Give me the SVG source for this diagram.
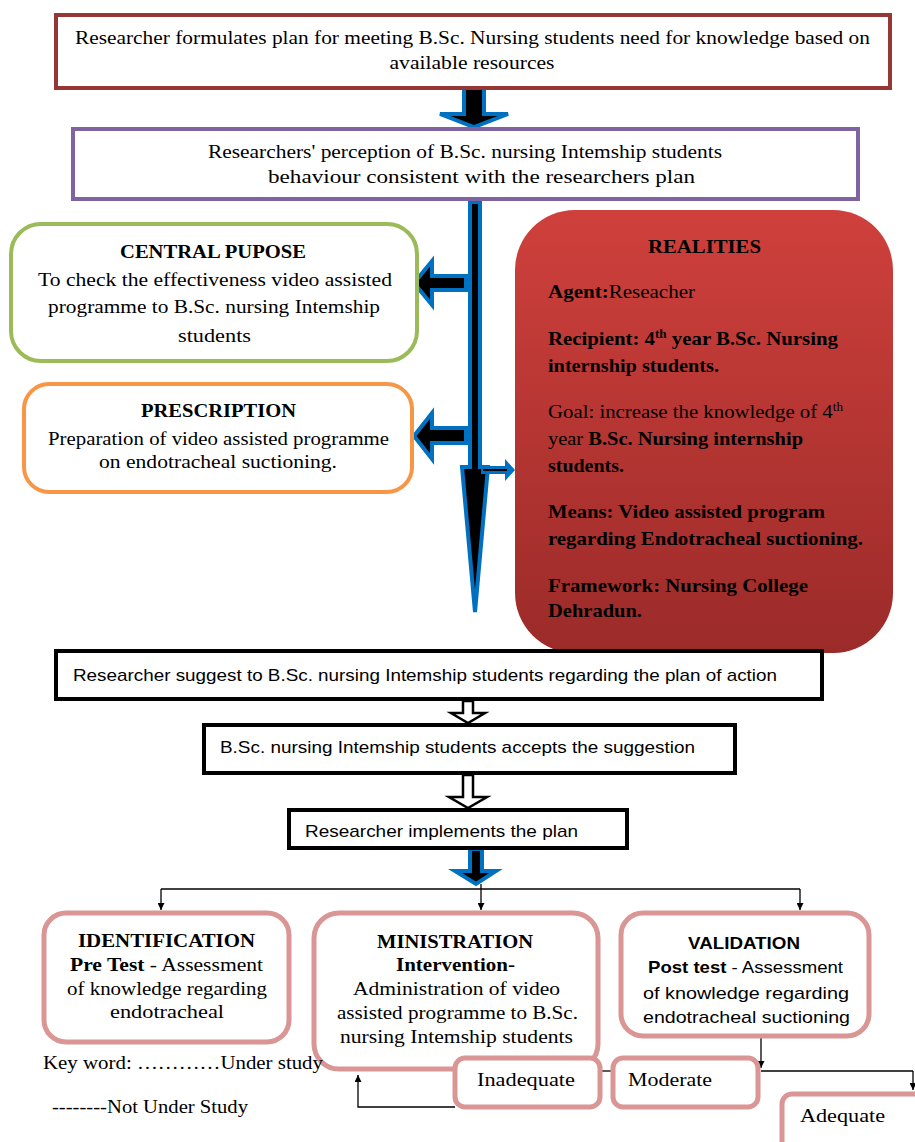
<svg xmlns="http://www.w3.org/2000/svg" width="915" height="1142" viewBox="0 0 915 1142">
<style>
.serif{font-family:"Liberation Serif","Times New Roman",serif;fill:#000}
.sans{font-family:"Liberation Sans",Arial,sans-serif;fill:#000}
.b{font-weight:bold}
.blk{fill:#fff;stroke:#000;stroke-width:4}
.pink{fill:#fff;stroke:#D99694;stroke-width:5}
.barrow{fill:#000;stroke:#0070C0;stroke-width:4;stroke-linejoin:miter}
.harrow{fill:#fff;stroke:#000;stroke-width:2.5}
.thin{fill:none;stroke:#000;stroke-width:1.3}
</style>
<defs>
<linearGradient id="redg" x1="0" y1="0" x2="0" y2="1">
<stop offset="0" stop-color="#CF403C"/>
<stop offset="1" stop-color="#9B2B29"/>
</linearGradient>
<marker id="ah" viewBox="0 0 10 10" refX="10" refY="5" markerWidth="7" markerHeight="7" orient="auto" markerUnits="userSpaceOnUse">
<path d="M0,0 L10,5 L0,10 z" fill="#000"/>
</marker>
</defs>

<g id="connectors">
<polygon class="barrow" points="464,88 484,88 484,114 508,114 474,127 440,114 464,114"/>
<polygon class="barrow" points="470,202 480,202 480,467 488,467 475,612 462,467 470,467"/>
<polygon class="barrow" points="466,276 432,276 432,261 414,283 432,305 432,290 466,290"/>
<polygon class="barrow" points="466,428 432,428 432,413 414,436 432,459 432,443 466,443"/>
<polygon points="481,466 505,466 505,459 515,470 505,481 505,474 481,474" fill="#0070C0"/>
<line x1="483" y1="470" x2="507" y2="470" stroke="#000" stroke-width="2"/>
<polygon class="harrow" points="463,701 473,701 473,713 485,713 468,723 451,713 463,713"/>
<polygon class="harrow" points="463,775 473,775 473,797 487,797 468,808 449,797 463,797"/>
<polygon class="barrow" points="470,849 482,849 482,871 496,871 476,884 455,871 470,871"/>
<path class="thin" d="M161,889 H800"/>
<path class="thin" d="M161,889 V910" marker-end="url(#ah)"/>
<path class="thin" d="M481,884 V910" marker-end="url(#ah)"/>
<path class="thin" d="M800,889 V910" marker-end="url(#ah)"/>
<path class="thin" d="M761,1038 V1068" marker-end="url(#ah)"/>
<path class="thin" d="M761,1071 H913"/>
<path class="thin" d="M913,1071 V1090" marker-end="url(#ah)"/>
<path class="thin" d="M600,1071 H612"/>
<path class="thin" d="M455,1107 H358 V1075" marker-end="url(#ah)"/>
</g>

<g id="box-plan">
<rect x="56" y="15" width="834" height="73" fill="#fff" stroke="#953735" stroke-width="4"/>
<text class="serif" x="75" y="44" font-size="18" textLength="795" lengthAdjust="spacingAndGlyphs">Researcher formulates plan for meeting B.Sc. Nursing students need for knowledge based on</text>
<text class="serif" x="472" y="69" font-size="18" text-anchor="middle" textLength="165" lengthAdjust="spacingAndGlyphs">available resources</text>
</g>

<g id="box-perception">
<rect x="73" y="129" width="785" height="70" fill="#fff" stroke="#8064A2" stroke-width="4"/>
<text class="serif" x="208" y="158" font-size="18" textLength="514" lengthAdjust="spacingAndGlyphs">Researchers' perception of B.Sc. nursing Intemship students</text>
<text class="serif" x="268" y="183" font-size="18" textLength="427" lengthAdjust="spacingAndGlyphs">behaviour consistent with the researchers plan</text>
</g>

<g id="box-central">
<rect x="11" y="224" width="406" height="137" rx="30" fill="#fff" stroke="#9BBB59" stroke-width="4"/>
<text class="serif b" x="120" y="258" font-size="18" textLength="186" lengthAdjust="spacingAndGlyphs">CENTRAL PUPOSE</text>
<text class="serif" x="38" y="286" font-size="18" textLength="354" lengthAdjust="spacingAndGlyphs">To check the effectiveness video assisted</text>
<text class="serif" x="48" y="313" font-size="18" textLength="332" lengthAdjust="spacingAndGlyphs">programme to B.Sc. nursing Intemship</text>
<text class="serif" x="178" y="342" font-size="18" textLength="73" lengthAdjust="spacingAndGlyphs">students</text>
</g>

<g id="box-prescription">
<rect x="24" y="384" width="388" height="108" rx="25" fill="#fff" stroke="#F79646" stroke-width="4"/>
<text class="serif b" x="141" y="417" font-size="18" textLength="155" lengthAdjust="spacingAndGlyphs">PRESCRIPTION</text>
<text class="serif" x="48" y="445" font-size="18" textLength="341" lengthAdjust="spacingAndGlyphs">Preparation of video assisted programme</text>
<text class="serif" x="99" y="468" font-size="18" textLength="238" lengthAdjust="spacingAndGlyphs">on endotracheal suctioning.</text>
</g>

<g id="box-realities">
<rect x="515" y="210" width="378" height="443" rx="60" fill="url(#redg)"/>
<text class="serif b" x="648" y="253" font-size="19" textLength="113" lengthAdjust="spacingAndGlyphs">REALITIES</text>
<text class="serif" x="548" y="298" font-size="19" textLength="147" lengthAdjust="spacingAndGlyphs"><tspan class="b">Agent:</tspan>Reseacher</text>
<text class="serif b" x="548" y="345" font-size="19" textLength="290" lengthAdjust="spacingAndGlyphs">Recipient: 4<tspan font-size="12" dy="-7">th</tspan><tspan dy="7">  year B.Sc. Nursing</tspan></text>
<text class="serif b" x="548" y="372" font-size="19" textLength="171" lengthAdjust="spacingAndGlyphs">internship students.</text>
<text class="serif" x="548" y="418" font-size="19" textLength="295" lengthAdjust="spacingAndGlyphs">Goal: increase the knowledge of 4<tspan font-size="12" dy="-7">th</tspan></text>
<text class="serif" x="548" y="445" font-size="19" textLength="255" lengthAdjust="spacingAndGlyphs">year <tspan class="b">B.Sc. Nursing internship</tspan></text>
<text class="serif b" x="548" y="472" font-size="19" textLength="76" lengthAdjust="spacingAndGlyphs">students.</text>
<text class="serif b" x="548" y="518" font-size="19" textLength="277" lengthAdjust="spacingAndGlyphs">Means: Video assisted program</text>
<text class="serif b" x="548" y="545" font-size="19" textLength="315" lengthAdjust="spacingAndGlyphs">regarding Endotracheal suctioning.</text>
<text class="serif b" x="548" y="592" font-size="19" textLength="260" lengthAdjust="spacingAndGlyphs">Framework: Nursing College</text>
<text class="serif b" x="548" y="617" font-size="19" textLength="94" lengthAdjust="spacingAndGlyphs">Dehradun.</text>
</g>

<g id="box-suggest">
<rect class="blk" x="56" y="651" width="766" height="48"/>
<text class="sans" x="73" y="681" font-size="17" textLength="704" lengthAdjust="spacingAndGlyphs">Researcher suggest to B.Sc. nursing Intemship students regarding the plan of action</text>
</g>

<g id="box-accepts">
<rect class="blk" x="204" y="725" width="531" height="48"/>
<text class="sans" x="220" y="753" font-size="17" textLength="475" lengthAdjust="spacingAndGlyphs">B.Sc. nursing Intemship students accepts the suggestion</text>
</g>

<g id="box-implements">
<rect class="blk" x="289" y="810" width="338" height="38"/>
<text class="sans" x="305" y="837" font-size="17" textLength="273" lengthAdjust="spacingAndGlyphs">Researcher implements the plan</text>
</g>

<g id="box-identification">
<rect class="pink" x="44" y="913" width="245" height="129" rx="22"/>
<text class="serif b" x="78" y="947" font-size="18" textLength="177" lengthAdjust="spacingAndGlyphs">IDENTIFICATION</text>
<text class="serif" x="70" y="971" font-size="18" textLength="193" lengthAdjust="spacingAndGlyphs"><tspan class="b">Pre Test</tspan> - Assessment</text>
<text class="serif" x="67" y="995" font-size="18" textLength="200" lengthAdjust="spacingAndGlyphs">of knowledge regarding</text>
<text class="serif" x="110" y="1018" font-size="18" textLength="114" lengthAdjust="spacingAndGlyphs">endotracheal</text>
</g>

<g id="box-ministration">
<rect class="pink" x="314" y="913" width="284" height="156" rx="25"/>
<text class="serif b" x="377" y="948" font-size="18" textLength="156" lengthAdjust="spacingAndGlyphs">MINISTRATION</text>
<text class="serif b" x="396" y="971" font-size="18" textLength="119" lengthAdjust="spacingAndGlyphs">Intervention-</text>
<text class="serif" x="353" y="995" font-size="18" textLength="207" lengthAdjust="spacingAndGlyphs">Administration of video</text>
<text class="serif" x="337" y="1019" font-size="18" textLength="241" lengthAdjust="spacingAndGlyphs">assisted programme to B.Sc.</text>
<text class="serif" x="340" y="1043" font-size="18" textLength="233" lengthAdjust="spacingAndGlyphs">nursing Intemship students</text>
</g>

<g id="box-validation">
<rect class="pink" x="621" y="913" width="248" height="123" rx="22"/>
<text class="sans b" x="688" y="949" font-size="17" textLength="112" lengthAdjust="spacingAndGlyphs">VALIDATION</text>
<text class="sans" x="648" y="973" font-size="17" textLength="195" lengthAdjust="spacingAndGlyphs"><tspan class="b">Post test</tspan> - Assessment</text>
<text class="sans" x="643" y="999" font-size="17" textLength="206" lengthAdjust="spacingAndGlyphs">of  knowledge regarding</text>
<text class="sans" x="643" y="1023" font-size="17" textLength="207" lengthAdjust="spacingAndGlyphs">endotracheal suctioning</text>
</g>

<g id="box-inadequate">
<rect class="pink" x="455" y="1058" width="145" height="49" rx="10"/>
<text class="serif" x="477" y="1086" font-size="18" textLength="98" lengthAdjust="spacingAndGlyphs">Inadequate</text>
</g>

<g id="box-moderate">
<rect class="pink" x="613" y="1058" width="145" height="49" rx="10"/>
<text class="serif" x="628" y="1086" font-size="18" textLength="84" lengthAdjust="spacingAndGlyphs">Moderate</text>
</g>

<g id="box-adequate">
<rect class="pink" x="782" y="1094" width="150" height="60" rx="10"/>
<text class="serif" x="800" y="1122" font-size="18" textLength="85" lengthAdjust="spacingAndGlyphs">Adequate</text>
</g>

<g id="key">
<text class="serif" x="43" y="1069" font-size="18" textLength="280" lengthAdjust="spacingAndGlyphs">Key word:  …………Under study</text>
<text class="serif" x="52" y="1113" font-size="18" textLength="196" lengthAdjust="spacingAndGlyphs">--------Not  Under Study</text>
</g>
</svg>
